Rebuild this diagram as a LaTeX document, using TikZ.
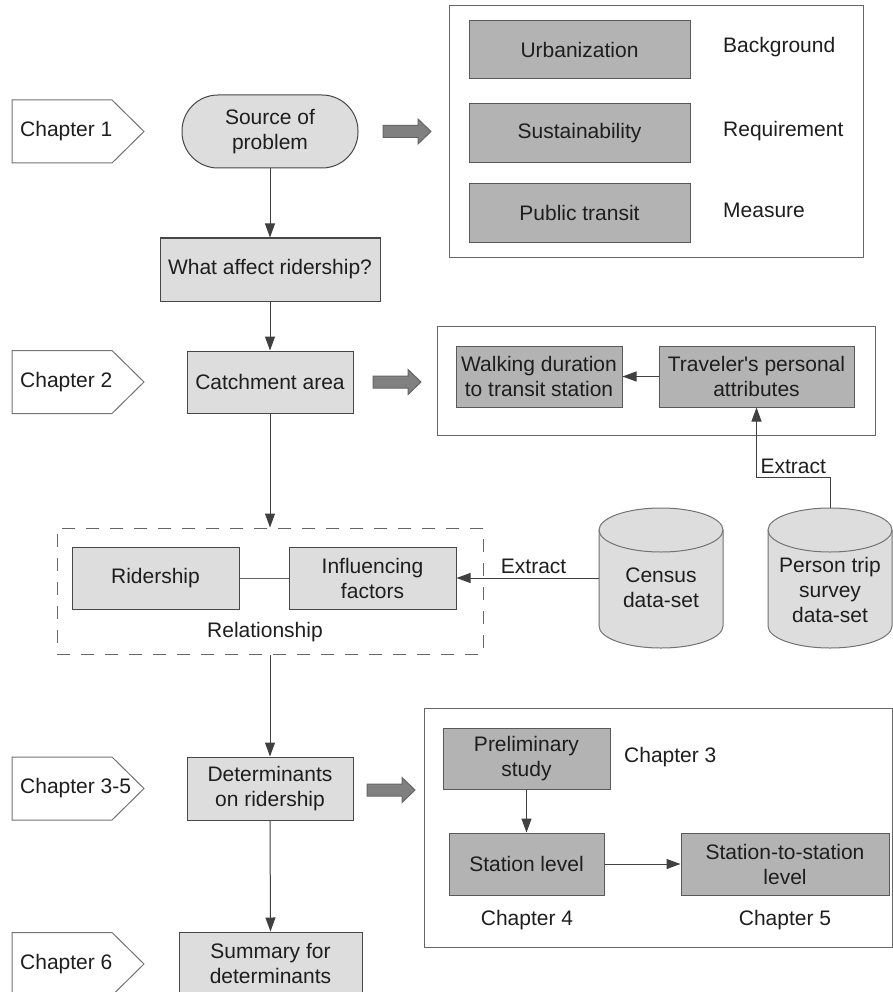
\documentclass[tikz,border=0pt]{standalone}
\usepackage{fontspec}
\setmainfont{Liberation Sans}
\usetikzlibrary{arrows.meta}
\definecolor{lightfill}{HTML}{DDDDDD}
\definecolor{darkfill}{HTML}{B3B3B3}
\definecolor{fatfill}{HTML}{808080}
\definecolor{txtcol}{HTML}{1E1E1E}
\tikzset{
  txt/.style={font=\fontsize{21}{25}\selectfont, text=txtcol, align=center, inner sep=0pt},
  lbox/.style={txt, draw=black!72, fill=lightfill, line width=1pt},
  dbox/.style={txt, draw=black!65, fill=darkfill, line width=1pt},
  outerbox/.style={draw=black!60, line width=1pt, inner sep=0pt},
  chapline/.style={draw=black!55, fill=white, line width=1pt},
  conn/.style={draw=black!75, line width=1pt, -{Triangle[length=14pt,width=10pt]}},
  plain/.style={draw=black!60, line width=1pt},
  fat/.style={draw=black!60, fill=fatfill, line width=1pt},
  cyl/.style={draw=black!55, fill=lightfill, line width=1pt},
}
\newcommand\chapshape[3]{%
  \draw[chapline] (12,#2-31.5) -- (112,#2-31.5) -- (144,#2) -- (112,#2+31.5) -- (12,#2+31.5) -- cycle;
  \node[txt, anchor=west] (#1) at (20,#2) {#3};
}
\newcommand\fatarrow[2]{%
  \draw[fat] (#1,#2-6) -- (#1+35,#2-6) -- (#1+35,#2-12.5) -- (#1+48,#2) -- (#1+35,#2+12.5) -- (#1+35,#2+6) -- (#1,#2+6) -- cycle;
}
\newcommand\dbcyl[2]{% left x, right x (top 508, bottom 648)
  \draw[cyl] (#1,530) -- (#1,626) arc[start angle=180,end angle=360,x radius=62pt,y radius=22pt]
     -- (#2,530) arc[start angle=0,end angle=180,x radius=62pt,y radius=22pt] -- cycle;
  \draw[cyl, fill=none] (#1,530) arc[start angle=180,end angle=360,x radius=62pt,y radius=22pt];
}
\begin{document}
\begin{tikzpicture}[x=1pt,y=-1pt]
\useasboundingbox (0,0) rectangle (893,992);
\clip (0,0) rectangle (893,992);
\fill[white] (0,0) rectangle (893,992);

% chapter markers
\chapshape{ch1}{131.5}{Chapter 1}
\chapshape{ch2}{382}{Chapter 2}
\chapshape{ch35}{788.5}{Chapter 3-5}
\chapshape{ch6}{964}{Chapter 6}

% main column
\node[lbox, rounded corners=36pt, minimum width=176pt, minimum height=73pt] (src) at (270,131.5) {Source of\\problem};
\node[lbox, minimum width=220pt, minimum height=63pt] (what) at (270,269.5) {What affect ridership?};
\node[lbox, minimum width=166pt, minimum height=62pt] (catch) at (270,382) {Catchment area};
\node[draw=black!60, line width=1pt, dash pattern=on 13pt off 11pt, minimum width=426pt, minimum height=126pt, inner sep=0pt] (rel) at (270,591) {};
\node[lbox, minimum width=167pt, minimum height=62pt] (rid) at (155.5,578) {Ridership};
\node[lbox, minimum width=167pt, minimum height=62pt] (infl) at (372.5,578) {Influencing\\factors};
\node[txt] (rellab) at (265,632) {Relationship};
\node[lbox, minimum width=166pt, minimum height=63pt] (det) at (270,788.5) {Determinants\\on ridership};
\node[lbox, minimum width=183pt, minimum height=63pt] (sum) at (270.5,963.5) {Summary for\\determinants};

% top right group
\node[outerbox, minimum width=414pt, minimum height=251pt] (bg) at (656,131.5) {};
\node[dbox, minimum width=221pt, minimum height=58pt] (urb) at (579.5,50) {Urbanization};
\node[dbox, minimum width=221pt, minimum height=59pt] (sus) at (579.5,133.5) {Sustainability};
\node[dbox, minimum width=221pt, minimum height=58pt] (pub) at (579.5,213) {Public transit};
\node[txt, anchor=west] (lbg) at (723,47) {Background};
\node[txt, anchor=west] (lreq) at (723,131) {Requirement};
\node[txt, anchor=west] (lmea) at (723,210) {Measure};

% middle right group
\node[outerbox, minimum width=438pt, minimum height=109pt] (wbox) at (656,380.5) {};
\node[dbox, minimum width=166pt, minimum height=61pt] (walk) at (539,376.5) {Walking duration\\to transit station};
\node[dbox, minimum width=195pt, minimum height=61pt] (trav) at (756.5,376.5) {Traveler\textquotesingle s personal\\attributes};

% databases
\dbcyl{599}{723}
\node[inner sep=0pt, minimum width=124pt, minimum height=140pt] (census) at (661,578) {};
\node[txt] (censustxt) at (661,588) {Census\\data-set};
\dbcyl{768}{892}
\node[inner sep=0pt, minimum width=124pt, minimum height=140pt] (person) at (830,578) {};
\node[txt] (persontxt) at (830,590) {Person trip\\survey\\data-set};

% bottom right group
\node[outerbox, minimum width=468pt, minimum height=239pt] (sbox) at (658,827.5) {};
\node[dbox, minimum width=167pt, minimum height=61pt] (pre) at (526.5,758.5) {Preliminary\\study};
\node[dbox, minimum width=155pt, minimum height=62pt] (sta) at (526.5,864) {Station level};
\node[dbox, minimum width=208pt, minimum height=62pt] (sts) at (785,864) {Station-to-station\\level};
\node[txt, anchor=west] (c3) at (624,757) {Chapter 3};
\node[txt] (c4) at (527,920) {Chapter 4};
\node[txt] (c5) at (785,920) {Chapter 5};

% fat arrows
\fatarrow{383}{131.5}
\fatarrow{373}{382}
\fatarrow{367}{790}

% connectors
\draw[conn] (src.south) -- (what.north);
\draw[conn] (what.south) -- (catch.north);
\draw[conn] (catch.south) -- (rel.north);
\draw[conn] (rel.south) -- (det.north);
\draw[conn] (det.south) -- (sum.north);
\draw[plain] (rid.east) -- (infl.west);
\draw[conn] (census.west) -- node[txt, midway, above=4pt, xshift=6pt] {Extract} (infl.east);
\draw[conn] (person.north) -- ++(0,-30) coordinate (pc) -- (pc -| trav.south) node[txt, midway, above=4pt] {Extract} -- (trav.south);
\draw[conn] (trav.west) -- (walk.east);
\draw[conn] (pre.south) -- (sta.north);
\draw[conn] (sta.east) -- (sts.west);
\end{tikzpicture}
\end{document}
